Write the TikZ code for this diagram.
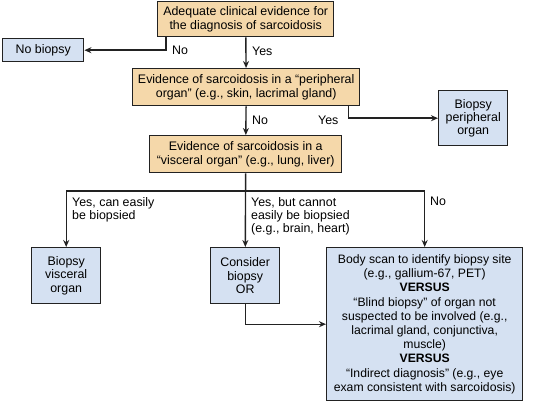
\documentclass[tikz,border=0pt]{standalone}
\usepackage{fontspec}
\setmainfont{Liberation Sans}
\usepackage{xcolor}
\usetikzlibrary{arrows.meta}
\definecolor{evidfill}{HTML}{F5D8AA}
\definecolor{actfill}{HTML}{D5E1F2}
\definecolor{edge}{HTML}{222222}
\tikzset{
  evid/.style={draw=edge, line width=1.4pt, fill=evidfill, inner sep=0pt, align=center, anchor=north west},
  act/.style={draw=edge, line width=1.4pt, fill=actfill, inner sep=0pt, align=center, anchor=north west},
  arr/.style={draw=edge, line width=1.4pt, -{Stealth[length=7pt,width=6pt]}},
  lbl/.style={inner sep=0pt, anchor=west, align=left}
}
\begin{document}
\begin{tikzpicture}[x=1pt, y=-1pt, font=\fontsize{12.4}{13.4}\selectfont]
				\useasboundingbox (0,0) rectangle (536,401);
				\node [evid, minimum width=176pt, minimum height=35pt] (adequate) at (157,1) {Adequate clinical evidence for\\the diagnosis of sarcoidosis};
				\node [act, minimum width=81pt, minimum height=23pt] (nobiopsy) at (2,38) {No biopsy};
				\node [evid, minimum width=227pt, minimum height=37pt] (peripheral) at (132,68) {Evidence of sarcoidosis in a ``peripheral\\organ'' (e.g., skin, lacrimal gland)};
				\node [act, minimum width=69pt, minimum height=55pt] (periphbiopsy) at (438,90) {Biopsy\\peripheral\\organ};
				\node [evid, minimum width=192pt, minimum height=37pt] (visceral) at (149,135) {Evidence of sarcoidosis in a\\``visceral organ'' (e.g., lung, liver)};
				\node [act, minimum width=69pt, minimum height=56pt] (visbiopsy) at (31,247) {Biopsy\\visceral\\organ};
				\node [act, minimum width=69pt, minimum height=56pt] (consider) at (210,247) {Consider\\biopsy\\OR};
				\node [act, minimum width=196pt, minimum height=153pt, font=\fontsize{12.2}{14.2}\selectfont] (alt) at (326,247) {Body scan to identify biopsy site\\(e.g., gallium-67, PET)\\\textbf{VERSUS}\\``Blind biopsy'' of organ not\\suspected to be involved (e.g.,\\lacrimal gland, conjunctiva,\\muscle)\\\textbf{VERSUS}\\``Indirect diagnosis'' (e.g., eye\\exam consistent with sarcoidosis)};
				\coordinate (fork) at (245,191);
				\draw [arr] (adequate) -- (peripheral);
				\draw [arr] ([xshift=9pt]adequate.south west) |- (nobiopsy.east);
				\draw [arr] (peripheral) -- (visceral);
				\draw [arr] ([xshift=-12pt]peripheral.south east) |- (periphbiopsy.west);
				\draw [draw=edge, line width=1.4pt] (visbiopsy.north |- fork) -- (alt.north |- fork);
				\draw [arr] (visceral) -- (consider);
				\draw [arr] (visbiopsy.north |- fork) -- (visbiopsy.north);
				\draw [arr] (alt.north |- fork) -- (alt.north);
				\draw [arr] (consider.south) |- (alt.west);
				\node [lbl] (noA) at (172,50) {No};
				\node [lbl] (yesA) at (252,51) {Yes};
				\node [lbl] (noB) at (252,120) {No};
				\node [lbl] (yesB) at (318,120) {Yes};
				\node [lbl, anchor=north west] (yesEasy) at (72,197) {Yes, can easily\\be biopsied};
				\node [lbl, anchor=north west] (yesHard) at (251,197) {Yes, but cannot\\easily be biopsied\\(e.g., brain, heart)};
				\node [lbl, anchor=north west] (noC) at (430,197) {No};
			\end{tikzpicture}
\end{document}
